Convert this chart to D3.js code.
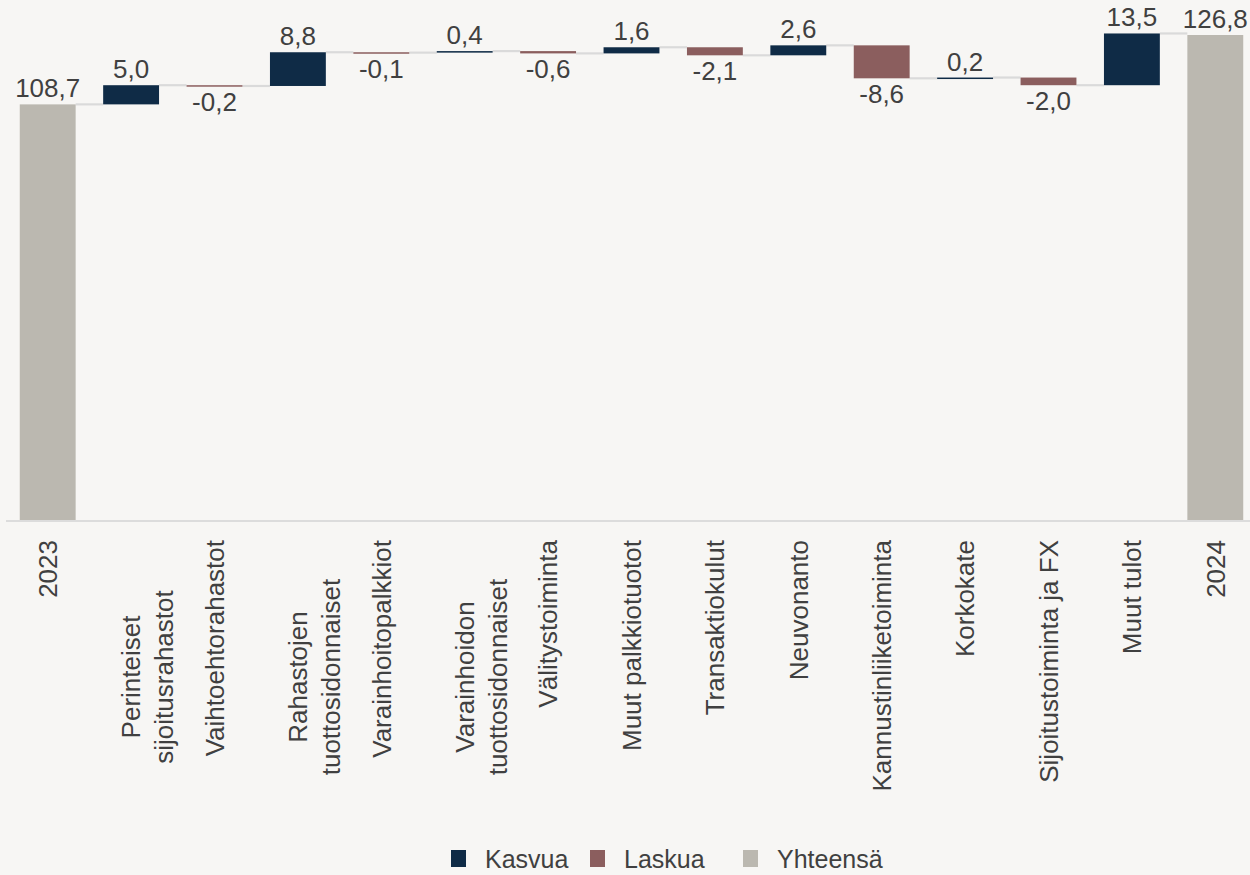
<!DOCTYPE html>
<html>
<head>
<meta charset="utf-8">
<script src="https://cdn.jsdelivr.net/npm/d3@7"></script>
<style>
  html, body { margin: 0; padding: 0; background: #F7F6F4; }
  svg { display: block; font-family: "Liberation Sans", Arial, sans-serif; }
</style>
</head>
<body>
<svg id="chart" width="1250" height="875"></svg>
<script>
// ---- data ----
const categories = [
  "2023",
  "Perinteiset\nsijoitusrahastot",
  "Vaihtoehtorahastot",
  "Rahastojen\ntuottosidonnaiset",
  "Varainhoitopalkkiot",
  "Varainhoidon\ntuottosidonnaiset",
  "Välitystoiminta",
  "Muut palkkiotuotot",
  "Transaktiokulut",
  "Neuvonanto",
  "Kannustinliiketoiminta",
  "Korkokate",
  "Sijoitustoiminta ja FX",
  "Muut tulot",
  "2024"
];
const values = [108.7, 5.0, -0.2, 8.8, -0.1, 0.4, -0.6, 1.6, -2.1, 2.6, -8.6, 0.2, -2.0, 13.5, 126.8];
const kinds = ["total", "delta", "delta", "delta", "delta", "delta", "delta", "delta", "delta", "delta", "delta", "delta", "delta", "delta", "total"];
const legendLabels = ["Kasvua", "Laskua", "Yhteensä"];

// ---- build waterfall ----
let running = 0;
const bars = categories.map((c, i) => {
  const v = values[i];
  let start, end, type;
  if (kinds[i] === "total") { start = 0; end = v; running = v; type = "total"; }
  else { start = running; end = running + v; running = end; type = v >= 0 ? "up" : "down"; }
  return { cat: c, value: v, start, end, type };
});

const colors = { up: "#0F2B46", down: "#8B5E5E", total: "#BBB8B0" };
const W = 1250, H = 875;
const svg = d3.select("#chart");
svg.append("rect").attr("width", W).attr("height", H).attr("fill", "#F7F6F4");

const x = d3.scaleBand().domain(categories).range([6, 1257]).paddingInner(0.33).paddingOuter(0.165);
const y = d3.scaleLinear().domain([0, 126.8]).range([521, 35]);

const fmt = v => v.toFixed(1).replace(".", ",");

// connectors
for (let i = 0; i < bars.length - 1; i++) {
  const lvl = bars[i].end;
  svg.append("line")
    .attr("x1", x(bars[i].cat) + x.bandwidth())
    .attr("x2", x(bars[i + 1].cat))
    .attr("y1", y(lvl)).attr("y2", y(lvl))
    .attr("stroke", "#DADADA").attr("stroke-width", 2.2);
}

// bars
svg.selectAll("rect.bar").data(bars).enter().append("rect")
  .attr("class", "bar")
  .attr("x", d => x(d.cat))
  .attr("width", x.bandwidth())
  .attr("y", d => Math.min(y(d.start), y(d.end)))
  .attr("height", d => Math.max(1.5, Math.abs(y(d.start) - y(d.end))))
  .attr("fill", d => colors[d.type]);

// axis line
svg.append("line").attr("x1", 6).attr("x2", 1250).attr("y1", 521).attr("y2", 521)
  .attr("stroke", "#DCDCDC").attr("stroke-width", 2);

// value labels
svg.selectAll("text.val").data(bars).enter().append("text")
  .attr("class", "val")
  .attr("x", d => x(d.cat) + x.bandwidth() / 2)
  .attr("y", d => d.type === "down" ? Math.max(y(d.start), y(d.end)) + 25 : Math.min(y(d.start), y(d.end)) - 7)
  .attr("text-anchor", "middle")
  .attr("font-size", 26)
  .attr("fill", "#404040")
  .text(d => fmt(d.value));

// category labels
bars.forEach(d => {
  const lines = d.cat.split("\n");
  const cx = x(d.cat) + x.bandwidth() / 2;
  if (lines.length === 1) {
    svg.append("text")
      .attr("transform", `translate(${cx},540) rotate(-90)`)
      .attr("text-anchor", "end")
      .attr("dy", "0.36em")
      .attr("font-size", 26).attr("fill", "#404040")
      .text(lines[0]);
  } else {
    const g = svg.append("text")
      .attr("transform", `translate(${cx},677) rotate(-90)`)
      .attr("text-anchor", "middle")
      .attr("font-size", 26).attr("fill", "#404040");
    lines.forEach((ln, k) => {
      g.append("tspan").attr("x", 0).attr("y", k * 33).attr("dy", "0.36em").text(ln);
    });
  }
});

// legend
const legendItems = [
  { label: legendLabels[0], color: colors.up, sx: 451, tx: 485 },
  { label: legendLabels[1], color: colors.down, sx: 590, tx: 624 },
  { label: legendLabels[2], color: colors.total, sx: 743, tx: 777 }
];
legendItems.forEach(it => {
  svg.append("rect").attr("x", it.sx).attr("y", 850).attr("width", 15).attr("height", 17).attr("fill", it.color);
  svg.append("text").attr("x", it.tx).attr("y", 868).attr("font-size", 25).attr("fill", "#404040").text(it.label);
});
</script>
</body>
</html>
